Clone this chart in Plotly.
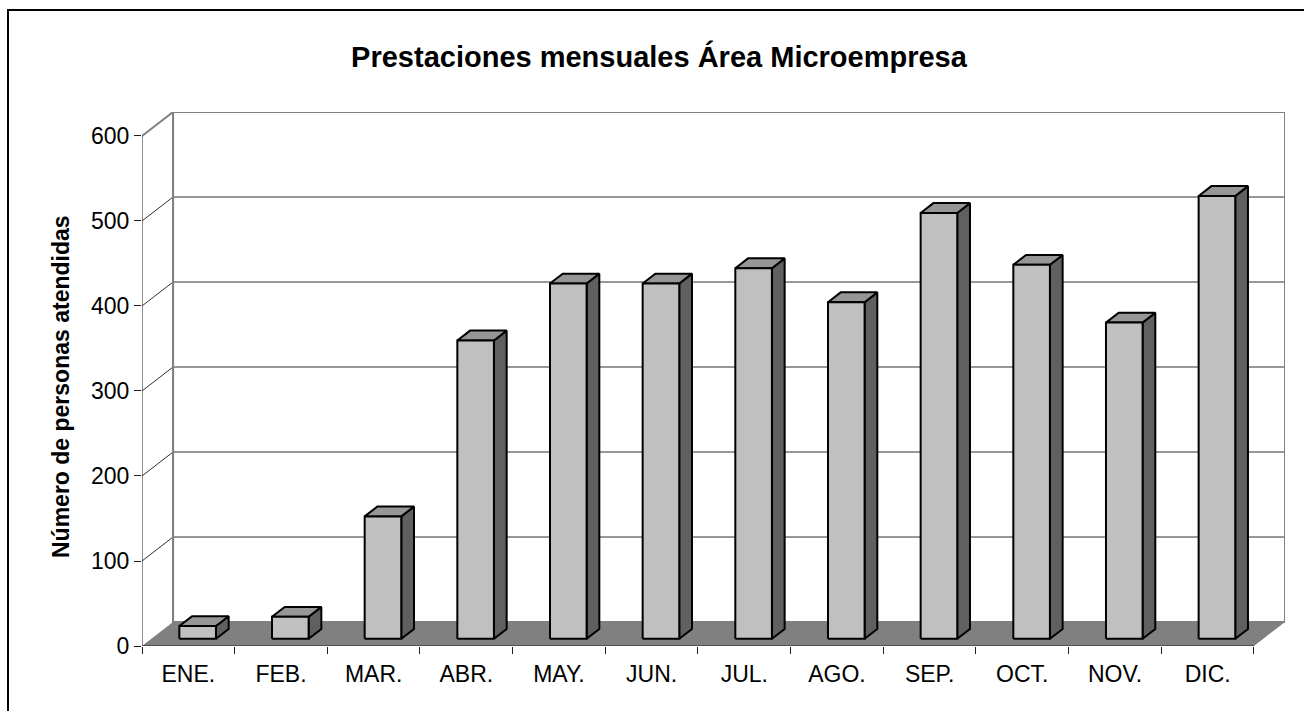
# monthly services chart, drawn as an Excel-like 3D column chart.

import plotly.graph_objects as go

months = ["ENE.", "FEB.", "MAR.", "ABR.", "MAY.", "JUN.", "JUL.", "AGO.", "SEP.", "OCT.", "NOV.", "DIC."]
personas = [15, 26, 144, 351, 418, 418, 436, 396, 501, 440, 372, 521]
yTicks = [0, 100, 200, 300, 400, 500, 600]

# page and projection settings
W, H = 1304, 711
marginL, marginR, marginT, marginB = 142, 19, 112, 65
yMax = 600
depthX = 0.335   # wall depth, category units
depthY = 28.2    # wall depth, value units
barFront, barBack = 0.30, 0.71
barWidth = 0.395
fontFamily = "Arial, Liberation Sans, sans-serif"

faceColor = "#C0C0C0"
topColor = "#969696"
sideColor = "#606060"
floorColor = "#808080"
wallLine = "#808080"
gridColor = "#303030"

nCat = len(months)
xMax = nCat + depthX
yTop = yMax + depthY

# turn a list of polygons into one x/y path
def polyPath(polys):
    xs, ys = [], []
    for p in polys:
        xs += [pt[0] for pt in p] + [p[0][0], None]
        ys += [pt[1] for pt in p] + [p[0][1], None]
    return xs, ys

def polyTrace(polys, fill, line, width):
    xs, ys = polyPath(polys)
    return go.Scatter(x = xs, y = ys, mode = "lines", fill = "toself", fillcolor = fill,
                      line = dict(color = line, width = width), hoverinfo = "skip", showlegend = False)

def lineTrace(xs, ys, color, width):
    return go.Scatter(x = xs, y = ys, mode = "lines", line = dict(color = color, width = width),
                      hoverinfo = "skip", showlegend = False)

fig = go.Figure()

# back wall and side wall
fig.add_trace(polyTrace([[(depthX, depthY), (xMax, depthY), (xMax, yTop), (depthX, yTop)]], "white", wallLine, 2))
fig.add_trace(polyTrace([[(0, 0), (depthX, depthY), (depthX, yTop), (0, yMax)]], "white", "rgba(0,0,0,0)", 0))

# gridlines on back wall and side wall
gx, gy, sx, sy = [], [], [], []
for v in yTicks[1:-1]:
    gx += [depthX, xMax, None]
    gy += [v + depthY, v + depthY, None]
for v in yTicks[1:-1]:
    sx += [0, depthX, None]
    sy += [v, v + depthY, None]
fig.add_trace(lineTrace(gx, gy, gridColor, 1))
fig.add_trace(lineTrace(sx, sy, gridColor, 1))

# wall edges
fig.add_trace(lineTrace([0, depthX, depthX, xMax, xMax], [yMax, yTop, depthY, depthY, yTop], wallLine, 2))
fig.add_trace(lineTrace([depthX, xMax], [yTop, yTop], wallLine, 2))

# floor
fig.add_trace(polyTrace([[(0, 0), (nCat, 0), (xMax, depthY), (depthX, depthY)]], floorColor, "rgba(0,0,0,0)", 0))

# front axis lines
fig.add_trace(lineTrace([0, 0, nCat], [yMax, 0, 0], "#202020", 1))

# bars
fronts, tops, sides = [], [], []
dx = (barBack - barFront) * depthX
dy = (barBack - barFront) * depthY
for i, v in enumerate(personas):
    c = i + 0.5 + barFront * depthX
    x0 = c - barWidth / 2
    x1 = c + barWidth / 2
    y0 = barFront * depthY
    y1 = y0 + v
    fronts.append([(x0, y0), (x1, y0), (x1, y1), (x0, y1)])
    tops.append([(x0, y1), (x1, y1), (x1 + dx, y1 + dy), (x0 + dx, y1 + dy)])
    sides.append([(x1, y0), (x1 + dx, y0 + dy), (x1 + dx, y1 + dy), (x1, y1)])
fig.add_trace(polyTrace(sides, sideColor, "black", 2))
fig.add_trace(polyTrace(tops, topColor, "black", 2))
fig.add_trace(polyTrace(fronts, faceColor, "black", 2))

# invisible trace so the tick axis is drawn
fig.add_trace(go.Scatter(x = [0], y = [0], xaxis = "x2", mode = "markers", marker = dict(opacity = 0),
                         hoverinfo = "skip", showlegend = False))

plotW = W - marginL - marginR
plotH = H - marginT - marginB

fig.update_layout(
    width = W, height = H,
    margin = dict(l = marginL, r = marginR, t = marginT, b = marginB, pad = 0),
    paper_bgcolor = "white", plot_bgcolor = "white",
    font = dict(family = fontFamily, size = 23, color = "black"),
    title = dict(text = "<b>Prestaciones mensuales Área Microempresa</b>", x = 659 / W, y = 1 - 57 / H,
                 xanchor = "center", yanchor = "middle", font = dict(size = 29)),
    xaxis = dict(range = [0, xMax], tickvals = [i + 0.5 for i in range(nCat)], ticktext = months,
                 ticks = "outside", ticklen = 7, tickcolor = "rgba(0,0,0,0)", showgrid = False,
                 zeroline = False, showline = False, fixedrange = True),
    xaxis2 = dict(range = [0, xMax], overlaying = "x", side = "bottom", tickvals = list(range(nCat + 1)),
                  ticks = "outside", ticklen = 7, tickcolor = "#202020", showticklabels = False,
                  showgrid = False, zeroline = False, showline = False),
    yaxis = dict(range = [0, yTop], tickvals = yTicks, ticks = "outside", ticklen = 7, tickcolor = "#202020",
                 showgrid = False, zeroline = False, showline = False, fixedrange = True),
    annotations = [dict(text = "<b>Número de personas atendidas</b>", textangle = -90, xref = "paper", yref = "paper",
                        x = (61 - marginL) / plotW, y = (H - marginB - 387) / plotH, xanchor = "center",
                        yanchor = "middle", showarrow = False, font = dict(size = 23))],
    shapes = [dict(type = "rect", xref = "paper", yref = "paper", x0 = (8 - marginL) / plotW, x1 = 1.2,
                   y0 = -0.3, y1 = (H - marginB - 10) / plotH, line = dict(color = "black", width = 2),
                   fillcolor = "rgba(0,0,0,0)", layer = "below")],
)

fig.write_html("out.html", config = {"displayModeBar": False}, post_script = "document.body.style.margin = '0';")
